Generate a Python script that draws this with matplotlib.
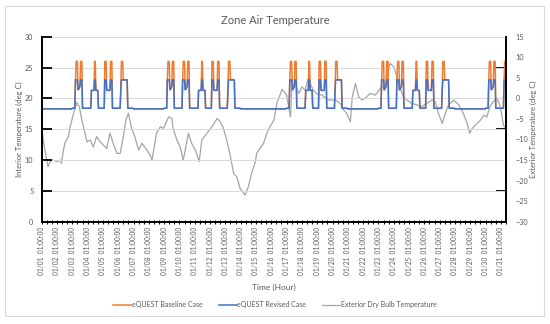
import matplotlib
matplotlib.use('Agg')
import matplotlib.pyplot as plt
from matplotlib.patches import Rectangle
import numpy as np

ORANGE = '#ED7D31'
BLUE = '#4472C4'
GRAY = '#A5A5A5'
TEXT = '#595959'

plt.rcParams['font.family'] = ['Lato', 'DejaVu Sans']

# hourly zone temperature profiles (24 values, starting 01:00) per kind of day
revised_profiles = {
    'off': [18.3] * 24,
    'A': [18.4] * 5 + [23.0] * 4 + [21.4, 21.5, 21.7, 22.0] + [23.0] * 3 + [18.4] * 8,
    'B': [18.4] * 6 + [21.3] * 5 + [23.0] * 2 + [21.3] * 4 + [18.4] * 7,
    'C': [18.4] * 3 + [23.0] * 3 + [21.3] * 6 + [23.0] * 3 + [18.4] * 9,
    'D': [18.4] * 4 + [21.3] + [23.0] * 10 + [18.4] * 9,
}
baseline_profiles = {
    'off': [18.3] * 24,
    'A': [18.4] * 5 + [23.0, 26.0, 26.0, 26.0] + [21.4, 21.5, 21.7, 22.0] + [26.0] * 3 + [18.4] * 8,
    'B': [18.4] * 6 + [21.3] * 5 + [26.0] * 2 + [21.3] * 4 + [18.4] * 7,
    'C': [18.4] * 3 + [26.0] * 3 + [21.3] * 6 + [26.0] * 3 + [18.4] * 9,
    'D': [18.4] * 4 + [21.3] + [26.0] * 3 + [23.0] * 7 + [18.4] * 9,
}
# kind of day for 01/01 .. 01/31
day_types = ['off', 'off', 'A', 'B', 'C', 'D', 'off',
             'off', 'A', 'A', 'B', 'C', 'D', 'off',
             'off', 'off', 'A', 'B', 'C', 'D', 'off',
             'off', 'A', 'A', 'B', 'C', 'D', 'off',
             'off', 'A', 'A']
n_hours = 729

# exterior dry bulb (deg C), read at hours since 01/01 01:00
ext_hours = [0, 5, 10, 13, 18, 24, 29, 31, 34, 37, 42, 44, 50, 55, 59, 63, 68, 71, 76, 81,
             86, 92, 97, 102, 107, 112, 118, 123, 128, 132, 136, 141, 146, 152, 157, 165,
             170, 173, 180, 186, 191, 199, 204, 206, 212, 217, 222, 225, 230, 235, 241, 247,
             251, 259, 267, 275, 280, 285, 290, 295, 301, 306, 311, 319, 324, 329, 335, 337,
             348, 353, 358, 364, 369, 377, 384, 390, 392, 397, 403, 408, 413, 418, 421, 426,
             431, 439, 450, 460, 468, 473, 478, 484, 487, 492, 497, 502, 507, 515, 523, 531,
             539, 544, 546, 552, 557, 562, 567, 573, 580, 588, 596, 604, 612, 617, 622, 628,
             633, 638, 646, 654, 661, 667, 671, 675, 680, 688, 693, 698, 703, 708, 714, 719,
             724, 728]
ext_temps = [-7.3, -12.6, -16.6, -15.4, -15.0, -15.4, -15.0, -15.8, -12.6, -10.6, -9.3, -7.3,
             -3.6, -1.0, -2.0, -5.3, -8.5, -10.6, -10.1, -11.8, -9.3, -10.6, -11.4, -12.2,
             -8.5, -10.9, -13.4, -13.4, -9.3, -5.3, -3.6, -7.3, -9.3, -12.6, -10.9, -12.6,
             -13.8, -15.0, -8.5, -6.9, -7.3, -4.5, -4.9, -7.3, -10.1, -11.8, -15.0, -12.6,
             -8.5, -10.9, -12.6, -15.4, -10.1, -8.5, -6.9, -4.9, -5.7, -7.3, -10.1, -13.4,
             -18.3, -19.1, -21.9, -23.5, -21.5, -18.3, -15.4, -13.4, -10.9, -8.5, -6.9, -5.3,
             -1.0, 2.2, 0.8, -4.5, 2.0, 3.6, 1.2, 2.8, 2.0, 4.9, 3.6, 2.0,
             1.2, 0.8, -0.4, -0.4, -1.2, -2.8, -3.6, -5.7, 0.4, 3.6, 0.4, -0.4, 0.0, 1.2, 0.8, 2.4,
             3.2, 6.9, 8.5, 7.7, 5.3, 2.4, 0.4, -0.4, -1.2, -1.6, -2.0, -1.2, -0.4, -0.8, -3.6, -6.1,
             -3.6, -1.6, -0.4, -1.6, -3.6, -6.1, -8.5, -7.3, -6.5, -5.3, -4.1, -4.5, -2.0, -0.8, 0.0, -2.0,
             -6.5, -7.3]

x_labels = [f'01/{d:02d}  01:00:00' for d in range(1, 32)]

hours = np.arange(n_hours)
revised = np.concatenate([revised_profiles[t] for t in day_types])[:n_hours]
baseline = np.concatenate([baseline_profiles[t] for t in day_types])[:n_hours]

fig = plt.figure(figsize=(5.5, 3.24), dpi=100)
ax = fig.add_axes([0.0758, 0.3157, 0.8442, 0.571])
ax2 = ax.twinx()
ax.set_zorder(ax2.get_zorder() + 1)
ax.patch.set_visible(False)

l_ext, = ax2.plot(ext_hours, ext_temps, color=GRAY, lw=0.9)
l_base, = ax.plot(hours, baseline, color=ORANGE, lw=1.1)
l_rev, = ax.plot(hours, revised, color=BLUE, lw=1.1)

ax.set_xlim(0, n_hours - 1)
ax.set_ylim(0, 30)
ax2.set_ylim(-30, 15)

ax.set_yticks(np.arange(0, 31, 5))
ax.grid(axis='y', color='#D9D9D9', lw=0.7)
ax.set_axisbelow(True)
ax.tick_params(axis='y', direction='in', length=7, width=1.3, color='black',
               labelsize=5.2, labelcolor=TEXT, pad=6)

ax.set_xticks(np.arange(0, n_hours, 24))
ax.set_xticks(np.arange(0, n_hours, 8), minor=True)
ax.set_xticklabels(x_labels, rotation=90)
ax.tick_params(axis='x', which='both', direction='inout', length=3.5, width=0.7,
               color='black', labelsize=4.7, labelcolor=TEXT, pad=2)

ax2.set_yticks(np.arange(-30, 16, 5))
ax2.set_yticks(np.arange(-30, 16, 7.5), minor=True)
ax2.tick_params(axis='y', which='major', length=0, labelsize=5.2, labelcolor=TEXT, pad=7)
ax2.tick_params(axis='y', which='minor', direction='in', length=7, width=1.3, color='black')

for a in (ax, ax2):
    a.spines['top'].set_visible(False)
    for s in ('left', 'right', 'bottom'):
        a.spines[s].set_color('black')
        a.spines[s].set_linewidth(1.3)

ax.set_ylabel('Interior Temperature (deg C)', fontsize=5.5, color=TEXT, labelpad=1)
ax2.set_ylabel('Exterior Temperature (deg C)', fontsize=5.5, color=TEXT,
               rotation=90, labelpad=1)
ax.set_xlabel('Time (Hour)', fontsize=6, color=TEXT, labelpad=6)

fig.text(0.5, 1 - 20 / 324, 'Zone Air Temperature', ha='center', va='center',
         fontsize=8, color=TEXT)

fig.legend([l_base, l_rev, l_ext],
           ['eQUEST Baseline Case', 'eQUEST Revised Case', 'Exterior Dry Bulb Temperature'],
           loc='center', bbox_to_anchor=(0.5, 1 - 305 / 324), ncol=3, frameon=False,
           fontsize=5, handlelength=2.6, columnspacing=2.3, handletextpad=0.1,
           labelcolor=TEXT)

fig.patches.append(Rectangle((5 / 550, 1 - 316 / 324), 539 / 550, 310 / 324,
                             transform=fig.transFigure, fill=False,
                             edgecolor='#D9D9D9', lw=0.8))

fig.savefig('out.png', dpi=100)
